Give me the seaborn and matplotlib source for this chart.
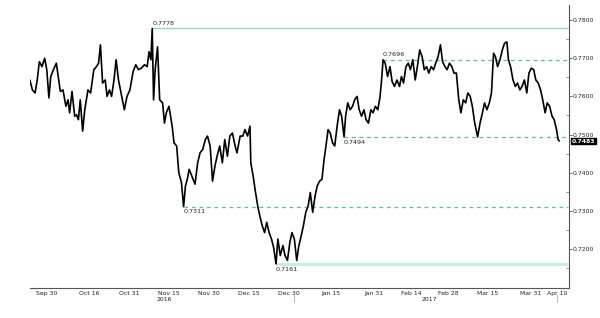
import numpy as np
import pandas as pd
import matplotlib
matplotlib.use("Agg")
import matplotlib.pyplot as plt
import matplotlib.transforms as mtransforms
import seaborn as sns

sns.set_theme(style="white")
plt.rcParams['font.family'] = ['DejaVu Sans']

# ---- data ----
base_date = "2016-09-30"
day_offsets = [
    -6.5, -5.5, -4.5, -3.7, -2.9, -1.9, -0.9, -0.1, 0.7, 1.4,
    2.4, 3.5, 4.2, 5.0, 6.0, 7.1, 7.9, 8.5, 9.4, 10.4,
    11.1, 11.8, 12.5, 13.4, 14.2, 15.4, 16.4, 17.6, 18.6, 19.4,
    20.1, 20.9, 21.9, 22.6, 23.5, 24.3, 25.2, 26.0, 26.9, 28.1,
    29.1, 30.1, 31.2, 32.4, 33.4, 34.4, 35.5, 36.7, 37.7, 38.4,
    39.1, 39.6, 40.1, 40.7, 41.6, 42.4, 43.5, 44.2, 44.9, 45.9,
    47.1, 47.8, 48.8, 49.6, 50.6, 51.4, 52.1, 52.8, 53.5, 54.5,
    55.7, 56.7, 57.6, 58.6, 59.6, 60.4, 61.4, 62.3, 63.2, 64.0,
    65.0, 66.0, 66.9, 67.9, 68.8, 69.8, 70.8, 71.5, 72.7, 73.7,
    74.5, 75.5, 76.4, 76.7, 77.6, 78.4, 79.4, 80.1, 81.0, 81.9,
    82.7, 83.6, 84.5, 85.3, 86.2, 86.9, 87.8, 88.8, 89.6, 90.5,
    91.4, 92.2, 93.1, 94.0, 94.8, 95.7, 96.5, 97.4, 98.3, 99.1,
    100.0, 100.9, 101.7, 102.6, 103.5, 104.3, 105.0, 105.8, 106.6, 107.5,
    108.3, 109.2, 110.1, 110.9, 111.8, 112.4, 113.2, 114.1, 115.0, 115.8,
    116.7, 117.5, 118.4, 119.3, 120.1, 121.0, 121.9, 122.7, 123.6, 124.5,
    125.3, 125.9, 126.5, 127.3, 128.2, 129.1, 129.9, 130.8, 131.7, 132.7,
    133.4, 134.2, 135.1, 136.0, 136.8, 137.7, 138.6, 139.4, 140.3, 141.2,
    142.0, 142.9, 143.7, 144.6, 145.5, 146.3, 147.2, 148.1, 148.9, 149.8,
    150.6, 151.5, 152.4, 153.2, 154.1, 155.0, 155.8, 156.7, 157.6, 158.4,
    159.3, 160.1, 161.0, 162.1, 163.0, 163.9, 164.7, 165.6, 166.5, 167.3,
    168.1, 168.8, 169.6, 170.5, 171.4, 172.2, 173.1, 173.7, 174.5, 175.4,
    176.3, 177.1, 178.0, 178.8, 179.7, 180.6, 181.4, 182.3, 183.2, 184.0,
    184.9, 185.8, 186.6, 187.5, 188.3, 189.2, 190.1, 190.9, 191.8, 192.4,
    192.8,
]
prices = [
    0.7643, 0.7617, 0.7609, 0.7643, 0.7691, 0.7678, 0.7700, 0.7670, 0.7596, 0.7652,
    0.7670, 0.7687, 0.7652, 0.7613, 0.7617, 0.7574, 0.7591, 0.7557, 0.7613, 0.7548,
    0.7552, 0.7539, 0.7591, 0.7509, 0.7565, 0.7617, 0.7609, 0.7670, 0.7678, 0.7687,
    0.7735, 0.7635, 0.7643, 0.7600, 0.7617, 0.7600, 0.7643, 0.7696, 0.7643, 0.7600,
    0.7565, 0.7600, 0.7617, 0.7665, 0.7683, 0.7670, 0.7674, 0.7683, 0.7678, 0.7717,
    0.7696, 0.7778, 0.7591, 0.7670, 0.7730, 0.7591, 0.7583, 0.7530, 0.7557, 0.7574,
    0.7522, 0.7478, 0.7470, 0.7400, 0.7374, 0.7311, 0.7365, 0.7383, 0.7409, 0.7391,
    0.7370, 0.7426, 0.7452, 0.7461, 0.7487, 0.7496, 0.7470, 0.7378, 0.7417, 0.7443,
    0.7470, 0.7426, 0.7487, 0.7443, 0.7496, 0.7504, 0.7470, 0.7452, 0.7496, 0.7496,
    0.7513, 0.7496, 0.7522, 0.7426, 0.7391, 0.7352, 0.7309, 0.7287, 0.7261, 0.7243,
    0.7270, 0.7243, 0.7226, 0.7204, 0.7161, 0.7226, 0.7183, 0.7209, 0.7183, 0.7170,
    0.7217, 0.7243, 0.7226, 0.7170, 0.7209, 0.7235, 0.7261, 0.7296, 0.7313, 0.7348,
    0.7296, 0.7339, 0.7365, 0.7378, 0.7383, 0.7435, 0.7470, 0.7513, 0.7504, 0.7478,
    0.7470, 0.7522, 0.7565, 0.7548, 0.7494, 0.7548, 0.7583, 0.7565, 0.7574, 0.7591,
    0.7600, 0.7565, 0.7548, 0.7565, 0.7539, 0.7530, 0.7565, 0.7557, 0.7574, 0.7565,
    0.7596, 0.7639, 0.7696, 0.7687, 0.7652, 0.7678, 0.7639, 0.7626, 0.7643, 0.7626,
    0.7652, 0.7635, 0.7678, 0.7687, 0.7670, 0.7696, 0.7643, 0.7678, 0.7722, 0.7704,
    0.7670, 0.7678, 0.7661, 0.7678, 0.7670, 0.7687, 0.7704, 0.7735, 0.7691, 0.7678,
    0.7670, 0.7687, 0.7678, 0.7661, 0.7661, 0.7591, 0.7557, 0.7591, 0.7583, 0.7609,
    0.7600, 0.7574, 0.7530, 0.7494, 0.7530, 0.7557, 0.7583, 0.7565, 0.7583, 0.7609,
    0.7713, 0.7704, 0.7678, 0.7696, 0.7722, 0.7739, 0.7743, 0.7696, 0.7678, 0.7643,
    0.7626, 0.7635, 0.7617, 0.7626, 0.7643, 0.7609, 0.7661, 0.7674, 0.7670, 0.7643,
    0.7635, 0.7617, 0.7591, 0.7557, 0.7583, 0.7574, 0.7548, 0.7539, 0.7513, 0.7487,
    0.7483,
]

# reference levels: value, start date, style
level_values = [0.7778, 0.7696, 0.7494, 0.7311, 0.7161]
level_starts = ["2016-11-08 14:00", "2017-02-03 12:00", "2017-01-19 19:00",
                "2016-11-20 10:00", "2016-12-25 05:00"]
level_solid = [True, False, False, False, True]
level_label_above = [True, True, False, False, False]

tick_dates = ["2016-09-30", "2016-10-16", "2016-10-31", "2016-11-15", "2016-11-30",
              "2016-12-15", "2016-12-30", "2017-01-15", "2017-01-31", "2017-02-14",
              "2017-02-28", "2017-03-15", "2017-03-31", "2017-04-10"]
tick_labels = ["Sep 30", "Oct 16", "Oct 31", "Nov 15", "Nov 30", "Dec 15", "Dec 30",
               "Jan 15", "Jan 31", "Feb 14", "Feb 28", "Mar 15", "Mar 31", "Apr 10"]
year_labels = ["2016", "2017"]
year_label_dates = ["2016-11-13", "2017-02-21"]
year_breaks = ["2017-01-01", "2017-04-10"]
y_ticks = [0.72, 0.73, 0.74, 0.75, 0.76, 0.77, 0.78]

# ---- build ----
dates = pd.Timestamp(base_date) + pd.to_timedelta(np.array(day_offsets), unit="D")
df = pd.DataFrame({"date": dates, "price": prices})

fig = plt.figure(figsize=(6.0, 3.18), dpi=100)
ax = fig.add_axes([0.05, 0.0943, 0.898, 0.8897])

mint = "#8fdcbc"
for v, s, solid, above in zip(level_values, level_starts, level_solid, level_label_above):
    x0 = pd.Timestamp(s)
    x1 = pd.Timestamp("2017-04-14")
    if solid:
        lw = 2.2 if v < 0.72 else 1.0
        col = "#c9eee0" if v < 0.72 else mint
        ax.plot([x0, x1], [v, v], color=col, lw=lw, ls="-", zorder=1, solid_capstyle="butt")
    else:
        ax.plot([x0, x1], [v, v], color="#4fc490", lw=0.9, ls=(0, (3, 3)), zorder=1)
    ax.annotate(f"{v:.4f}", xy=(x0, v), xytext=(0, 2 if above else -2),
                textcoords="offset points", ha="left",
                va="bottom" if above else "top", fontsize=4.6, color="#222222")

sns.lineplot(data=df, x="date", y="price", ax=ax, color="black", lw=1.2, zorder=3)

ax.set_xlim(pd.Timestamp("2016-09-23 14:00"), pd.Timestamp("2017-04-14 10:00"))
ax.set_ylim(0.70978, 0.78393)

# spines
for side in ["top", "left"]:
    ax.spines[side].set_visible(False)
for side in ["right", "bottom"]:
    ax.spines[side].set_color("#555555")
    ax.spines[side].set_linewidth(0.8)

# x ticks
td = pd.to_datetime(tick_dates)
ax.set_xticks(td)
ax.set_xticklabels(tick_labels, fontsize=4.4, color="#222222")
mids = td[:-1] + (td[1:] - td[:-1]) / 2
ax.set_xticks(mids, minor=True)
ax.tick_params(axis="x", which="major", length=0, pad=2)
ax.tick_params(axis="x", which="minor", length=2, direction="in", color="#777777", width=0.6)
ax.set_xlabel("")

# year labels
trans = mtransforms.blended_transform_factory(ax.transData, ax.transAxes)
for lab, d in zip(year_labels, year_label_dates):
    ax.text(pd.Timestamp(d), -0.032, lab, transform=trans, ha="center", va="top",
            fontsize=4.4, color="#222222")
for d in year_breaks:
    ax.plot([pd.Timestamp(d)] * 2, [-0.025, -0.05], transform=trans, color="#bbbbbb",
            lw=0.8, clip_on=False)

# y ticks right
ax.yaxis.tick_right()
ax.set_yticks(y_ticks)
ax.set_yticklabels([f"{t:.4f}" for t in y_ticks], fontsize=4.4, color="#222222")
ax.set_yticks([0.715, 0.725, 0.735, 0.745, 0.755, 0.765, 0.775], minor=True)
ax.tick_params(axis="y", which="major", length=2, direction="out", color="#555555", width=0.6, pad=1)
ax.tick_params(axis="y", which="minor", length=2, direction="in", color="#777777", width=0.6)
ax.set_ylabel("")

# last value tag
last = prices[-1]
ax.annotate(f"{last:.4f}", xy=(1.0, last), xycoords=("axes fraction", "data"),
            xytext=(2, 0), textcoords="offset points", ha="left", va="center",
            fontsize=4.4, color="white", fontweight="bold",
            bbox=dict(boxstyle="square,pad=0.15", fc="black", ec="black"))

ax.grid(False)
fig.savefig("out.png", dpi=100)
